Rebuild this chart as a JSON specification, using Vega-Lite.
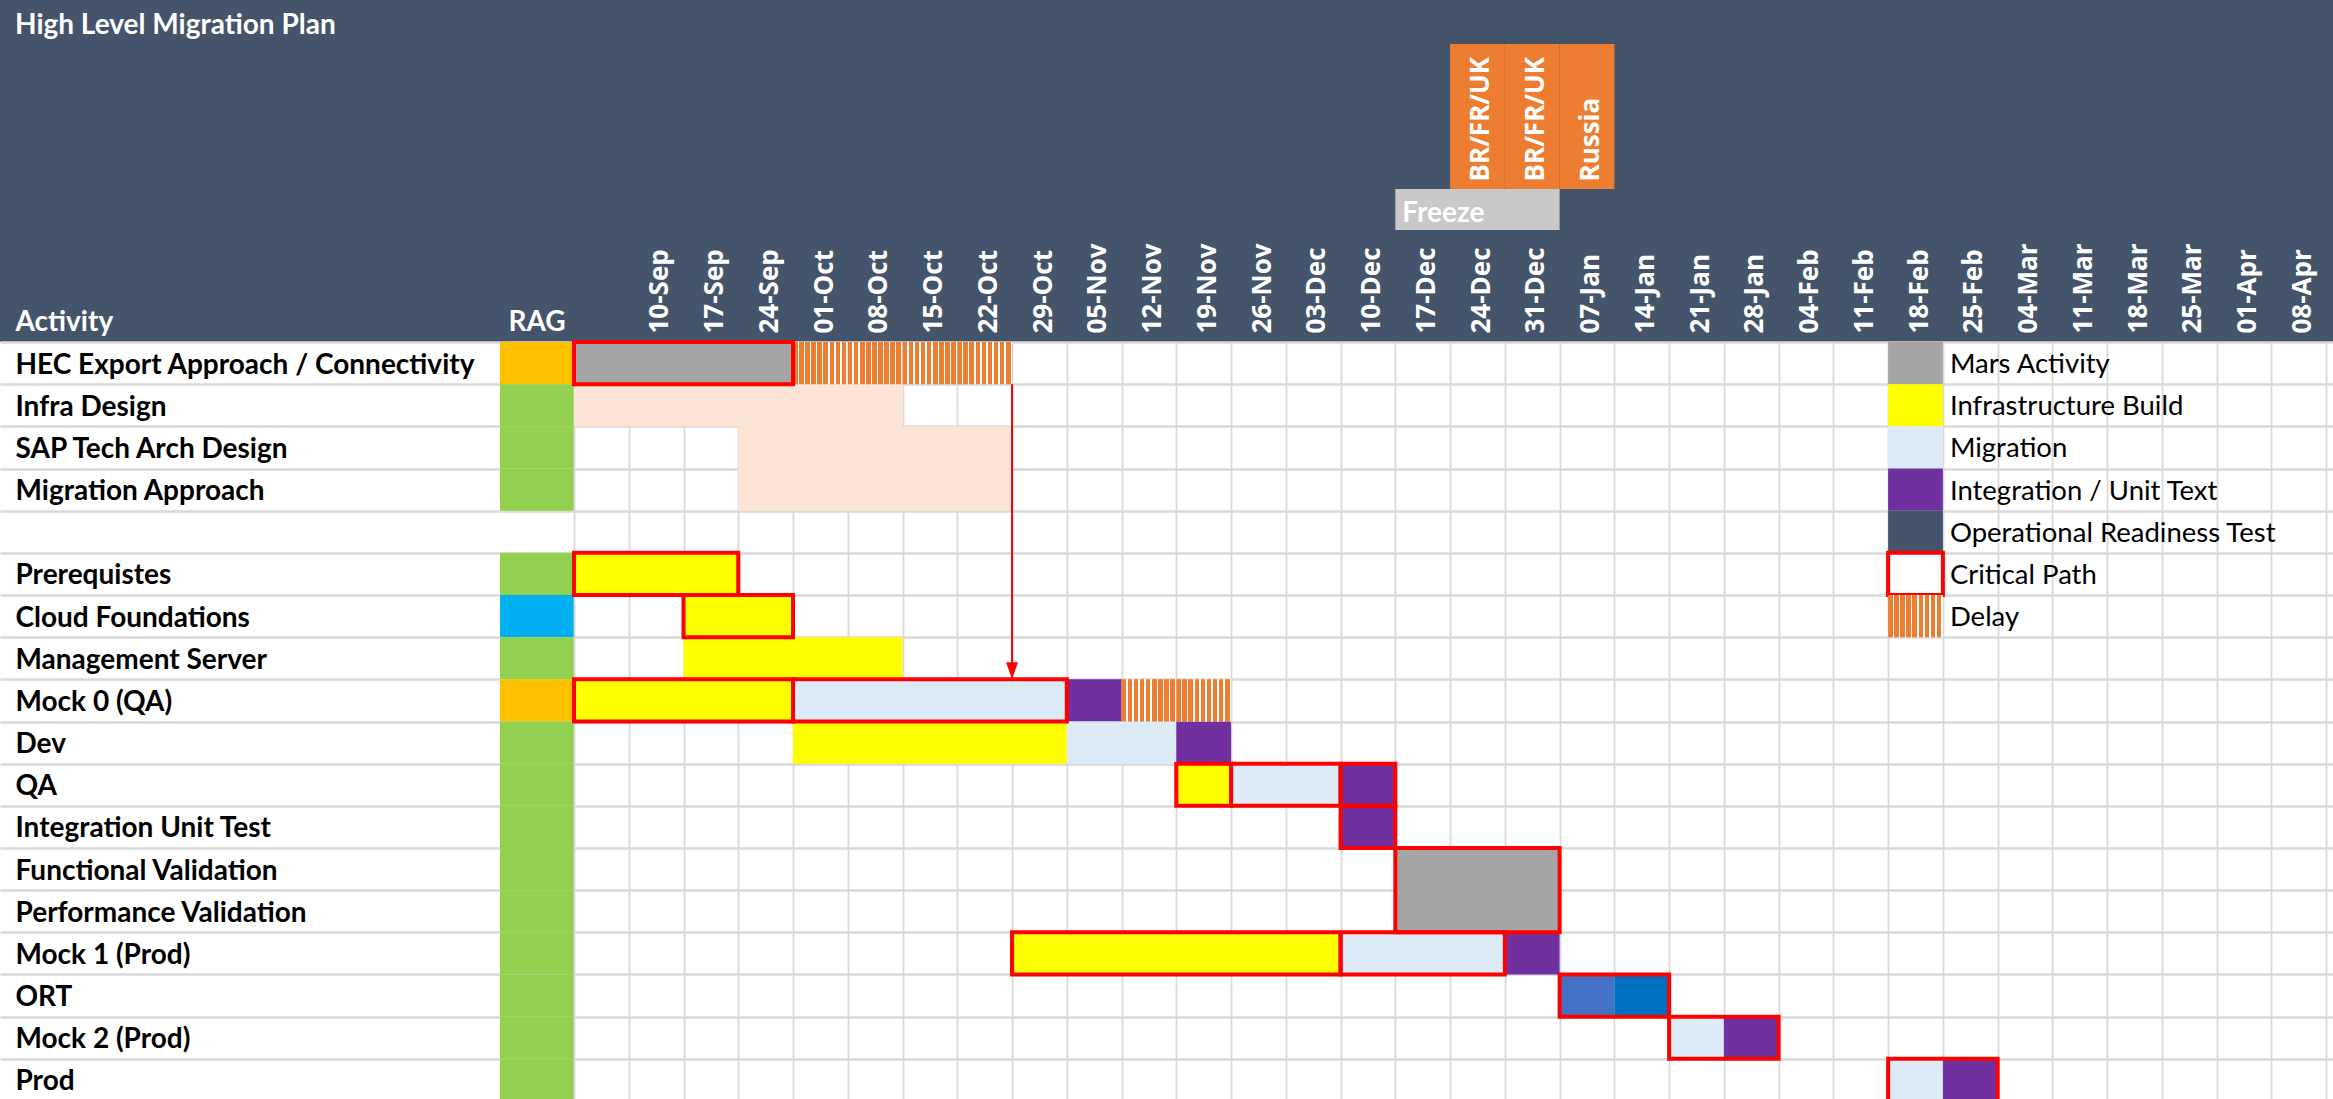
{
  "$schema": "https://vega.github.io/schema/vega-lite/v6.json",
  "background": "#44546A",
  "padding": {"left": 0, "top": 12, "right": 0, "bottom": 0},
  "title": {"text": "High Level Migration Plan", "anchor": "start", "frame": "group", "dx": 15, "offset": 4, "font": "Lato", "fontSize": 28, "fontWeight": "bold", "color": "#FFFFFF"},
  "columns": 3,
  "spacing": 0,
  "bounds": "flush",
  "align": "each",
  "resolve": {"scale": {"color": "independent"}},
  "config": {"view": {"stroke": null}},
  "datasets": {
    "rows": [
      {"task": "HEC Export Approach / Connectivity", "rag": "Amber"},
      {"task": "Infra Design", "rag": "Green"},
      {"task": "SAP Tech Arch Design", "rag": "Green"},
      {"task": "Migration Approach", "rag": "Green"},
      {"task": " ", "rag": null},
      {"task": "Prerequistes", "rag": "Green"},
      {"task": "Cloud Foundations", "rag": "Blue"},
      {"task": "Management Server", "rag": "Green"},
      {"task": "Mock 0 (QA)", "rag": "Amber"},
      {"task": "Dev", "rag": "Green"},
      {"task": "QA", "rag": "Green"},
      {"task": "Integration Unit Test", "rag": "Green"},
      {"task": "Functional Validation", "rag": "Green"},
      {"task": "Performance Validation", "rag": "Green"},
      {"task": "Mock 1 (Prod)", "rag": "Green"},
      {"task": "ORT", "rag": "Green"},
      {"task": "Mock 2 (Prod)", "rag": "Green"},
      {"task": "Prod", "rag": "Green"}
    ],
    "bars": [
      {"task": "HEC Export Approach / Connectivity", "start": "2018-09-03", "end": "2018-10-01", "type": "Mars Activity"},
      {"task": "Infra Design", "start": "2018-09-03", "end": "2018-10-15", "type": "Design"},
      {"task": "SAP Tech Arch Design", "start": "2018-09-24", "end": "2018-10-29", "type": "Design"},
      {"task": "Migration Approach", "start": "2018-09-24", "end": "2018-10-29", "type": "Design"},
      {"task": "Prerequistes", "start": "2018-09-03", "end": "2018-09-24", "type": "Infrastructure Build"},
      {"task": "Cloud Foundations", "start": "2018-09-17", "end": "2018-10-01", "type": "Infrastructure Build"},
      {"task": "Management Server", "start": "2018-09-17", "end": "2018-10-15", "type": "Infrastructure Build"},
      {"task": "Mock 0 (QA)", "start": "2018-09-03", "end": "2018-10-01", "type": "Infrastructure Build"},
      {"task": "Mock 0 (QA)", "start": "2018-10-01", "end": "2018-11-05", "type": "Migration"},
      {"task": "Mock 0 (QA)", "start": "2018-11-05", "end": "2018-11-12", "type": "Integration / Unit Text"},
      {"task": "Dev", "start": "2018-10-01", "end": "2018-11-05", "type": "Infrastructure Build"},
      {"task": "Dev", "start": "2018-11-05", "end": "2018-11-19", "type": "Migration"},
      {"task": "Dev", "start": "2018-11-19", "end": "2018-11-26", "type": "Integration / Unit Text"},
      {"task": "QA", "start": "2018-11-19", "end": "2018-11-26", "type": "Infrastructure Build"},
      {"task": "QA", "start": "2018-11-26", "end": "2018-12-10", "type": "Migration"},
      {"task": "QA", "start": "2018-12-10", "end": "2018-12-17", "type": "Integration / Unit Text"},
      {"task": "Integration Unit Test", "start": "2018-12-10", "end": "2018-12-17", "type": "Integration / Unit Text"},
      {"task": "Mock 1 (Prod)", "start": "2018-10-29", "end": "2018-12-10", "type": "Infrastructure Build"},
      {"task": "Mock 1 (Prod)", "start": "2018-12-10", "end": "2018-12-31", "type": "Migration"},
      {"task": "Mock 1 (Prod)", "start": "2018-12-31", "end": "2019-01-07", "type": "Integration / Unit Text"},
      {"task": "ORT", "start": "2019-01-07", "end": "2019-01-14", "type": "ORT Stage 1"},
      {"task": "ORT", "start": "2019-01-14", "end": "2019-01-21", "type": "ORT Stage 2"},
      {"task": "Mock 2 (Prod)", "start": "2019-01-21", "end": "2019-01-28", "type": "Migration"},
      {"task": "Mock 2 (Prod)", "start": "2019-01-28", "end": "2019-02-04", "type": "Integration / Unit Text"},
      {"task": "Prod", "start": "2019-02-18", "end": "2019-02-25", "type": "Migration"},
      {"task": "Prod", "start": "2019-02-25", "end": "2019-03-04", "type": "Integration / Unit Text"}
    ],
    "merged": [
      {"task": "Functional Validation", "taskEnd": "Performance Validation", "start": "2018-12-17", "end": "2019-01-07", "type": "Mars Activity"}
    ],
    "delay": [
      {"task": "HEC Export Approach / Connectivity", "start": "2018-10-01", "end": "2018-10-08"},
      {"task": "HEC Export Approach / Connectivity", "start": "2018-10-08", "end": "2018-10-15"},
      {"task": "HEC Export Approach / Connectivity", "start": "2018-10-15", "end": "2018-10-22"},
      {"task": "HEC Export Approach / Connectivity", "start": "2018-10-22", "end": "2018-10-29"},
      {"task": "Mock 0 (QA)", "start": "2018-11-12", "end": "2018-11-19"},
      {"task": "Mock 0 (QA)", "start": "2018-11-19", "end": "2018-11-26"}
    ],
    "critical": [
      {"task": "HEC Export Approach / Connectivity", "taskEnd": "HEC Export Approach / Connectivity", "start": "2018-09-03", "end": "2018-10-01"},
      {"task": "Prerequistes", "taskEnd": "Prerequistes", "start": "2018-09-03", "end": "2018-09-24"},
      {"task": "Cloud Foundations", "taskEnd": "Cloud Foundations", "start": "2018-09-17", "end": "2018-10-01"},
      {"task": "Mock 0 (QA)", "taskEnd": "Mock 0 (QA)", "start": "2018-09-03", "end": "2018-10-01"},
      {"task": "Mock 0 (QA)", "taskEnd": "Mock 0 (QA)", "start": "2018-10-01", "end": "2018-11-05"},
      {"task": "QA", "taskEnd": "QA", "start": "2018-11-19", "end": "2018-11-26"},
      {"task": "QA", "taskEnd": "QA", "start": "2018-11-26", "end": "2018-12-10"},
      {"task": "QA", "taskEnd": "QA", "start": "2018-12-10", "end": "2018-12-17"},
      {"task": "Integration Unit Test", "taskEnd": "Integration Unit Test", "start": "2018-12-10", "end": "2018-12-17"},
      {"task": "Functional Validation", "taskEnd": "Performance Validation", "start": "2018-12-17", "end": "2019-01-07"},
      {"task": "Mock 1 (Prod)", "taskEnd": "Mock 1 (Prod)", "start": "2018-10-29", "end": "2018-12-10"},
      {"task": "Mock 1 (Prod)", "taskEnd": "Mock 1 (Prod)", "start": "2018-12-10", "end": "2018-12-31"},
      {"task": "ORT", "taskEnd": "ORT", "start": "2019-01-07", "end": "2019-01-21"},
      {"task": "Mock 2 (Prod)", "taskEnd": "Mock 2 (Prod)", "start": "2019-01-21", "end": "2019-02-04"},
      {"task": "Prod", "taskEnd": "Prod", "start": "2019-02-18", "end": "2019-03-04"}
    ],
    "arrow": [
      {"from": "HEC Export Approach / Connectivity", "to": "Mock 0 (QA)", "date": "2018-10-29"}
    ],
    "legend": [
      {"row": "HEC Export Approach / Connectivity", "label": "Mars Activity", "type": "Mars Activity"},
      {"row": "Infra Design", "label": "Infrastructure Build", "type": "Infrastructure Build"},
      {"row": "SAP Tech Arch Design", "label": "Migration", "type": "Migration"},
      {"row": "Migration Approach", "label": "Integration / Unit Text", "type": "Integration / Unit Text"},
      {"row": " ", "label": "Operational Readiness Test", "type": "Operational Readiness Test"},
      {"row": "Prerequistes", "label": "Critical Path", "type": "Critical Path"},
      {"row": "Cloud Foundations", "label": "Delay", "type": "Delay"}
    ],
    "holidays": [
      {"start": "2018-12-24", "end": "2018-12-31", "label": "BR/FR/UK"},
      {"start": "2018-12-31", "end": "2019-01-07", "label": "BR/FR/UK"},
      {"start": "2019-01-07", "end": "2019-01-14", "label": "Russia"}
    ],
    "freeze": [
      {"start": "2018-12-17", "end": "2019-01-07", "label": "Freeze"}
    ]
  },
  "concat": [
    {"width": 500, "height": 145, "data": {"values": []}, "mark": "rect"},
    {"width": 74, "height": 145, "data": {"values": []}, "mark": "rect"},
    {
      "width": 1760, "height": 145,
      "data": {"name": "holidays"},
      "layer": [
        {
          "mark": {"type": "rect", "color": "#ED7D31", "strokeWidth": 0},
          "encoding": {
            "x": {"field": "start", "type": "temporal", "scale": {"type": "utc", "domain": [{"year": 2018, "month": 9, "date": 3, "utc": true}, {"year": 2019, "month": 4, "date": 16, "utc": true}]}, "axis": null},
            "x2": {"field": "end"}
          }
        },
        {
          "mark": {"type": "text", "angle": 270, "align": "left", "baseline": "middle", "dx": -65, "dy": 31, "font": "Open Sans", "fontSize": 26, "fontWeight": "bold", "color": "#FFFFFF"},
          "encoding": {
            "x": {"field": "start", "type": "temporal", "axis": null},
            "text": {"field": "label"}
          }
        }
      ]
    },
    {"width": 500, "height": 41, "data": {"values": []}, "mark": "rect"},
    {"width": 74, "height": 41, "data": {"values": []}, "mark": "rect"},
    {
      "width": 1760, "height": 41,
      "data": {"name": "freeze"},
      "layer": [
        {
          "mark": {"type": "rect", "color": "#C9C9C9", "strokeWidth": 0},
          "encoding": {
            "x": {"field": "start", "type": "temporal", "scale": {"type": "utc", "domain": [{"year": 2018, "month": 9, "date": 3, "utc": true}, {"year": 2019, "month": 4, "date": 16, "utc": true}]}, "axis": null},
            "x2": {"field": "end"}
          }
        },
        {
          "mark": {"type": "text", "align": "left", "baseline": "middle", "dx": 7, "dy": 4, "font": "Lato", "fontSize": 28, "fontWeight": "bold", "color": "#FFFFFF"},
          "encoding": {
            "x": {"field": "start", "type": "temporal", "axis": null},
            "text": {"field": "label"}
          }
        }
      ]
    },
    {"width": 500, "height": 112, "data": {"values": []}, "mark": "rect"},
    {"width": 74, "height": 112, "data": {"values": []}, "mark": "rect"},
    {"width": 1760, "height": 112, "data": {"values": []}, "mark": "rect"},
    {
      "width": 500, "height": 759,
      "view": {"fill": "#FFFFFF", "stroke": null},
      "data": {"name": "rows"},
      "mark": {"type": "rect", "opacity": 0},
      "encoding": {
        "x": {"datum": "Activity", "type": "nominal", "scale": {"paddingInner": 0, "paddingOuter": 0},
              "axis": {"orient": "top", "labels": false, "ticks": false, "domain": false, "grid": false, "title": "Activity", "titleAnchor": "start", "titleAlign": "left", "titleBaseline": "alphabetic", "titleX": 15, "titleY": -12, "titleFont": "Lato", "titleFontSize": 28, "titleFontWeight": "bold", "titleColor": "#FFFFFF"}},
        "y": {"field": "task", "type": "nominal",
              "scale": {"domain": ["HEC Export Approach / Connectivity", "Infra Design", "SAP Tech Arch Design", "Migration Approach", " ", "Prerequistes", "Cloud Foundations", "Management Server", "Mock 0 (QA)", "Dev", "QA", "Integration Unit Test", "Functional Validation", "Performance Validation", "Mock 1 (Prod)", "ORT", "Mock 2 (Prod)", "Prod"], "paddingInner": 0, "paddingOuter": 0},
              "axis": {"orient": "left", "title": null, "domain": false, "ticks": false, "tickSize": 0, "labelAlign": "left", "labelBaseline": "middle", "labelPadding": -15, "labelOffset": 2, "labelFont": "Lato", "labelFontSize": 28, "labelFontWeight": "bold", "labelColor": "#000000", "labelLimit": 0, "labelOverlap": false, "grid": true, "gridColor": "#D9D9D9", "gridWidth": 2.5, "tickBand": "extent"}}
      }
    },
    {
      "width": 74, "height": 759,
      "view": {"fill": "#FFFFFF", "stroke": null},
      "data": {"name": "rows"},
      "transform": [{"filter": "datum.rag != null"}],
      "mark": {"type": "rect", "strokeWidth": 0},
      "encoding": {
        "x": {"datum": "RAG", "type": "nominal", "scale": {"paddingInner": 0, "paddingOuter": 0},
              "axis": {"orient": "top", "title": null, "labelAngle": 0, "labelAlign": "center", "labelBaseline": "alphabetic", "labelPadding": 12, "labelFont": "Lato", "labelFontSize": 28, "labelFontWeight": "bold", "labelColor": "#FFFFFF", "ticks": false, "domain": false, "grid": false}},
        "y": {"field": "task", "type": "nominal",
              "scale": {"domain": ["HEC Export Approach / Connectivity", "Infra Design", "SAP Tech Arch Design", "Migration Approach", " ", "Prerequistes", "Cloud Foundations", "Management Server", "Mock 0 (QA)", "Dev", "QA", "Integration Unit Test", "Functional Validation", "Performance Validation", "Mock 1 (Prod)", "ORT", "Mock 2 (Prod)", "Prod"], "paddingInner": 0, "paddingOuter": 0},
              "axis": {"labels": false, "ticks": false, "domain": false, "title": null, "grid": true, "gridColor": "#D9D9D9", "gridWidth": 2.5, "tickBand": "extent", "zindex": 0}},
        "color": {"field": "rag", "type": "nominal", "scale": {"domain": ["Amber", "Green", "Blue"], "range": ["#FFC000", "#92D050", "#00B0F0"]}, "legend": null}
      }
    },
    {
      "width": 1760, "height": 759,
      "view": {"fill": "#FFFFFF", "stroke": null},
      "resolve": {"axis": {"x": "independent", "y": "independent"}},
      "layer": [
        {
          "data": {"name": "bars"},
          "mark": {"type": "rect", "strokeWidth": 0},
          "encoding": {
            "x": {"field": "start", "type": "temporal",
                  "scale": {"type": "utc", "domain": [{"year": 2018, "month": 9, "date": 3, "utc": true}, {"year": 2019, "month": 4, "date": 16, "utc": true}]},
                  "axis": {"orient": "top", "title": null, "format": "%d-%b", "zindex": 0,
                           "values": [
                             {"year": 2018, "month": 9, "date": 3, "utc": true}, {"year": 2018, "month": 9, "date": 10, "utc": true}, {"year": 2018, "month": 9, "date": 17, "utc": true}, {"year": 2018, "month": 9, "date": 24, "utc": true},
                             {"year": 2018, "month": 10, "date": 1, "utc": true}, {"year": 2018, "month": 10, "date": 8, "utc": true}, {"year": 2018, "month": 10, "date": 15, "utc": true}, {"year": 2018, "month": 10, "date": 22, "utc": true}, {"year": 2018, "month": 10, "date": 29, "utc": true},
                             {"year": 2018, "month": 11, "date": 5, "utc": true}, {"year": 2018, "month": 11, "date": 12, "utc": true}, {"year": 2018, "month": 11, "date": 19, "utc": true}, {"year": 2018, "month": 11, "date": 26, "utc": true},
                             {"year": 2018, "month": 12, "date": 3, "utc": true}, {"year": 2018, "month": 12, "date": 10, "utc": true}, {"year": 2018, "month": 12, "date": 17, "utc": true}, {"year": 2018, "month": 12, "date": 24, "utc": true}, {"year": 2018, "month": 12, "date": 31, "utc": true},
                             {"year": 2019, "month": 1, "date": 7, "utc": true}, {"year": 2019, "month": 1, "date": 14, "utc": true}, {"year": 2019, "month": 1, "date": 21, "utc": true}, {"year": 2019, "month": 1, "date": 28, "utc": true},
                             {"year": 2019, "month": 2, "date": 4, "utc": true}, {"year": 2019, "month": 2, "date": 11, "utc": true}, {"year": 2019, "month": 2, "date": 18, "utc": true}, {"year": 2019, "month": 2, "date": 25, "utc": true},
                             {"year": 2019, "month": 3, "date": 4, "utc": true}, {"year": 2019, "month": 3, "date": 11, "utc": true}, {"year": 2019, "month": 3, "date": 18, "utc": true}, {"year": 2019, "month": 3, "date": 25, "utc": true},
                             {"year": 2019, "month": 4, "date": 1, "utc": true}, {"year": 2019, "month": 4, "date": 8, "utc": true}, {"year": 2019, "month": 4, "date": 15, "utc": true}
                           ],
                           "labelExpr": "datum.label == '03-Sep' || datum.label == '15-Apr' ? '' : datum.label",
                           "labelAngle": 270, "labelAlign": "left", "labelBaseline": "middle", "labelOffset": 31, "labelPadding": 9,
                           "labelFont": "Open Sans", "labelFontSize": 26, "labelFontWeight": "bold", "labelColor": "#FFFFFF",
                           "labelOverlap": false, "labelBound": false, "labelFlush": false, "labelLimit": 0,
                           "ticks": false, "domain": false, "grid": true, "gridColor": "#D9D9D9", "gridWidth": 1.8}},
            "x2": {"field": "end"},
            "y": {"field": "task", "type": "nominal",
                  "scale": {"domain": ["HEC Export Approach / Connectivity", "Infra Design", "SAP Tech Arch Design", "Migration Approach", " ", "Prerequistes", "Cloud Foundations", "Management Server", "Mock 0 (QA)", "Dev", "QA", "Integration Unit Test", "Functional Validation", "Performance Validation", "Mock 1 (Prod)", "ORT", "Mock 2 (Prod)", "Prod"], "paddingInner": 0, "paddingOuter": 0},
                  "axis": {"labels": false, "ticks": false, "domain": false, "title": null, "grid": true, "gridColor": "#D9D9D9", "gridWidth": 2.5, "tickBand": "extent", "zindex": 0}},
            "color": {"field": "type", "type": "nominal",
                      "scale": {"domain": ["Mars Activity", "Design", "Infrastructure Build", "Migration", "Integration / Unit Text", "Operational Readiness Test", "ORT Stage 1", "ORT Stage 2", "Critical Path"],
                                "range": ["#A5A5A5", "#FCE4D6", "#FFFF00", "#DDEBF7", "#7030A0", "#44546A", "#4472C4", "#0070C0", "#FFFFFF"]},
                      "legend": null}
          }
        },
        {
          "data": {"name": "merged"},
          "mark": {"type": "rect", "strokeWidth": 0},
          "encoding": {
            "x": {"field": "start", "type": "temporal", "axis": null},
            "x2": {"field": "end"},
            "y": {"field": "task", "type": "nominal", "bandPosition": 0, "axis": null},
            "y2": {"field": "taskEnd", "bandPosition": 1},
            "color": {"field": "type", "type": "nominal", "legend": null}
          }
        },
        {
          "data": {"name": "delay"},
          "mark": {"type": "rect", "strokeWidth": 0,
                   "color": {"gradient": "linear", "x1": 0, "y1": 0, "x2": 1, "y2": 0, "stops": [
                     {"offset": 0, "color": "#ED7D31"}, {"offset": 0.0833, "color": "#ED7D31"}, {"offset": 0.0833, "color": "#FFFFFF"}, {"offset": 0.1111, "color": "#FFFFFF"},
                     {"offset": 0.1111, "color": "#ED7D31"}, {"offset": 0.1944, "color": "#ED7D31"}, {"offset": 0.1944, "color": "#FFFFFF"}, {"offset": 0.2222, "color": "#FFFFFF"},
                     {"offset": 0.2222, "color": "#ED7D31"}, {"offset": 0.3056, "color": "#ED7D31"}, {"offset": 0.3056, "color": "#FFFFFF"}, {"offset": 0.3333, "color": "#FFFFFF"},
                     {"offset": 0.3333, "color": "#ED7D31"}, {"offset": 0.4167, "color": "#ED7D31"}, {"offset": 0.4167, "color": "#FFFFFF"}, {"offset": 0.4444, "color": "#FFFFFF"},
                     {"offset": 0.4444, "color": "#ED7D31"}, {"offset": 0.5278, "color": "#ED7D31"}, {"offset": 0.5278, "color": "#FFFFFF"}, {"offset": 0.5556, "color": "#FFFFFF"},
                     {"offset": 0.5556, "color": "#ED7D31"}, {"offset": 0.6389, "color": "#ED7D31"}, {"offset": 0.6389, "color": "#FFFFFF"}, {"offset": 0.6667, "color": "#FFFFFF"},
                     {"offset": 0.6667, "color": "#ED7D31"}, {"offset": 0.75, "color": "#ED7D31"}, {"offset": 0.75, "color": "#FFFFFF"}, {"offset": 0.7778, "color": "#FFFFFF"},
                     {"offset": 0.7778, "color": "#ED7D31"}, {"offset": 0.8611, "color": "#ED7D31"}, {"offset": 0.8611, "color": "#FFFFFF"}, {"offset": 0.8889, "color": "#FFFFFF"},
                     {"offset": 0.8889, "color": "#ED7D31"}, {"offset": 0.9722, "color": "#ED7D31"}, {"offset": 0.9722, "color": "#FFFFFF"}, {"offset": 1, "color": "#FFFFFF"}]}},
          "encoding": {
            "x": {"field": "start", "type": "temporal", "axis": null},
            "x2": {"field": "end"},
            "y": {"field": "task", "type": "nominal", "axis": null}
          }
        },
        {
          "data": {"name": "legend"},
          "transform": [{"filter": "datum.type != 'Delay'"}],
          "mark": {"type": "rect", "stroke": "#FF0000"},
          "encoding": {
            "x": {"datum": {"year": 2019, "month": 2, "date": 18, "utc": true}, "type": "temporal", "axis": null},
            "x2": {"datum": {"year": 2019, "month": 2, "date": 25, "utc": true}},
            "y": {"field": "row", "type": "nominal", "axis": null},
            "color": {"field": "type", "type": "nominal", "legend": null},
            "strokeWidth": {"condition": {"test": "datum.type == 'Critical Path'", "value": 4}, "value": 0}
          }
        },
        {
          "data": {"name": "legend"},
          "transform": [{"filter": "datum.type == 'Delay'"}],
          "mark": {"type": "rect", "strokeWidth": 0,
                   "color": {"gradient": "linear", "x1": 0, "y1": 0, "x2": 1, "y2": 0, "stops": [
                     {"offset": 0, "color": "#ED7D31"}, {"offset": 0.0833, "color": "#ED7D31"}, {"offset": 0.0833, "color": "#FFFFFF"}, {"offset": 0.1111, "color": "#FFFFFF"},
                     {"offset": 0.1111, "color": "#ED7D31"}, {"offset": 0.1944, "color": "#ED7D31"}, {"offset": 0.1944, "color": "#FFFFFF"}, {"offset": 0.2222, "color": "#FFFFFF"},
                     {"offset": 0.2222, "color": "#ED7D31"}, {"offset": 0.3056, "color": "#ED7D31"}, {"offset": 0.3056, "color": "#FFFFFF"}, {"offset": 0.3333, "color": "#FFFFFF"},
                     {"offset": 0.3333, "color": "#ED7D31"}, {"offset": 0.4167, "color": "#ED7D31"}, {"offset": 0.4167, "color": "#FFFFFF"}, {"offset": 0.4444, "color": "#FFFFFF"},
                     {"offset": 0.4444, "color": "#ED7D31"}, {"offset": 0.5278, "color": "#ED7D31"}, {"offset": 0.5278, "color": "#FFFFFF"}, {"offset": 0.5556, "color": "#FFFFFF"},
                     {"offset": 0.5556, "color": "#ED7D31"}, {"offset": 0.6389, "color": "#ED7D31"}, {"offset": 0.6389, "color": "#FFFFFF"}, {"offset": 0.6667, "color": "#FFFFFF"},
                     {"offset": 0.6667, "color": "#ED7D31"}, {"offset": 0.75, "color": "#ED7D31"}, {"offset": 0.75, "color": "#FFFFFF"}, {"offset": 0.7778, "color": "#FFFFFF"},
                     {"offset": 0.7778, "color": "#ED7D31"}, {"offset": 0.8611, "color": "#ED7D31"}, {"offset": 0.8611, "color": "#FFFFFF"}, {"offset": 0.8889, "color": "#FFFFFF"},
                     {"offset": 0.8889, "color": "#ED7D31"}, {"offset": 0.9722, "color": "#ED7D31"}, {"offset": 0.9722, "color": "#FFFFFF"}, {"offset": 1, "color": "#FFFFFF"}]}},
          "encoding": {
            "x": {"datum": {"year": 2019, "month": 2, "date": 18, "utc": true}, "type": "temporal", "axis": null},
            "x2": {"datum": {"year": 2019, "month": 2, "date": 25, "utc": true}},
            "y": {"field": "row", "type": "nominal", "axis": null}
          }
        },
        {
          "data": {"name": "legend"},
          "mark": {"type": "text", "align": "left", "baseline": "middle", "dx": 7, "dy": 2, "font": "Lato", "fontSize": 27.5, "color": "#000000"},
          "encoding": {
            "x": {"datum": {"year": 2019, "month": 2, "date": 25, "utc": true}, "type": "temporal", "axis": null},
            "y": {"field": "row", "type": "nominal", "axis": null},
            "text": {"field": "label"}
          }
        },
        {
          "data": {"name": "critical"},
          "mark": {"type": "rect", "filled": false, "color": "#FF0000", "strokeWidth": 4},
          "encoding": {
            "x": {"field": "start", "type": "temporal", "axis": null},
            "x2": {"field": "end"},
            "y": {"field": "task", "type": "nominal", "bandPosition": 0, "axis": null},
            "y2": {"field": "taskEnd", "bandPosition": 1}
          }
        },
        {
          "data": {"name": "arrow"},
          "mark": {"type": "rule", "color": "#FF0000", "strokeWidth": 2},
          "encoding": {
            "x": {"field": "date", "type": "temporal", "axis": null},
            "y": {"field": "from", "type": "nominal", "bandPosition": 1, "axis": null},
            "y2": {"field": "to", "bandPosition": 0}
          }
        },
        {
          "data": {"name": "arrow"},
          "mark": {"type": "point", "shape": "M-0.35,-1L0.35,-1L0,0Z", "size": 1156, "filled": true, "color": "#FF0000", "opacity": 1, "strokeWidth": 0},
          "encoding": {
            "x": {"field": "date", "type": "temporal", "axis": null},
            "y": {"field": "to", "type": "nominal", "bandPosition": 0, "axis": null}
          }
        }
      ]
    }
  ]
}
